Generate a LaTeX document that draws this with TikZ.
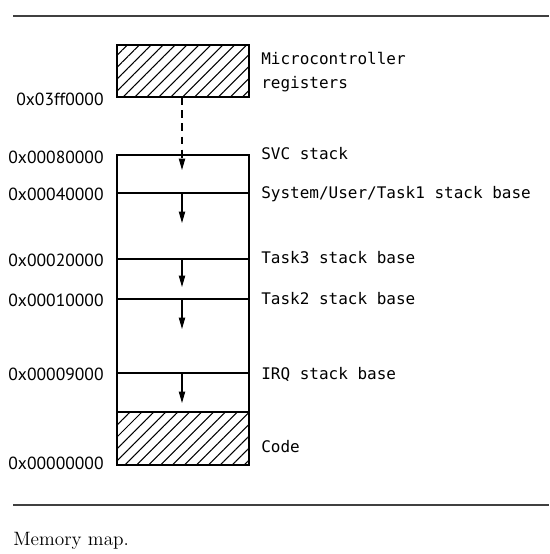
\documentclass[tikz,border=0pt]{standalone}
\usepackage{fontspec}
\setmonofont{DejaVu Sans Mono}
\newfontfamily\addrfont{PT Sans}
\usetikzlibrary{arrows.meta,patterns.meta}

\tikzset{
  wall/.style={line width=1pt},
  hatched/.style={draw, line width=1pt, pattern={Lines[angle=45,distance=4.8pt,line width=0.6pt]}},
  addr/.style={anchor=east, inner sep=0pt, font=\addrfont\fontsize{10}{12}\selectfont},
  region/.style={anchor=west, inner sep=0pt, align=left, font=\ttfamily\fontsize{9.1}{13.5}\selectfont},
  growarrow/.style={->, line width=0.6pt},
  rule/.style={line width=0.8pt, black!75},
}

\begin{document}
\begin{tikzpicture}[x=0.02cm, y=-0.02cm, >={Triangle[length=6.5pt,width=3.6pt]}]
    \useasboundingbox (0,0) rectangle (549,554);

    % rules above and below
    \draw[rule] (13,16) -- (549,16);
    \draw[rule] (13,505) -- (549,505);

    % registers block
    \draw[hatched] (117,45) rectangle (249,97);
    \node[region] (regs) at (261,72) {Microcontroller\\registers};
    \node[addr] (a-regs) at (104,99) {0x03ff0000};

    % RAM column and code block
    \draw[wall] (117,155) rectangle (249,465);
    \draw[hatched] (117,412) rectangle (249,465);
    \node[region] (code) at (261,447) {Code};
    \node[addr] (a-code) at (104,463) {0x00000000};

    \node[region] (svc) at (261,154) {SVC stack};
    \node[addr] (a-svc) at (104,157) {0x00080000};

    \draw[wall] (117,193) -- (249,193);
    \node[region] (usr) at (261,194) {System/User/Task1 stack base};
    \node[addr] (a-usr) at (104,194) {0x00040000};

    \draw[wall] (117,259) -- (249,259);
    \node[region] (t3) at (261,258) {Task3 stack base};
    \node[addr] (a-t3) at (104,260) {0x00020000};

    \draw[wall] (117,299) -- (249,299);
    \node[region] (t2) at (261,299) {Task2 stack base};
    \node[addr] (a-t2) at (104,300) {0x00010000};

    \draw[wall] (117,373) -- (249,373);
    \node[region] (irq) at (261,374) {IRQ stack base};
    \node[addr] (a-irq) at (104,374) {0x00009000};

    % stack growth
    \coordinate (s0) at (182,97);   \coordinate (e0) at (182,170);
    \coordinate (s1) at (182,193);  \coordinate (e1) at (182,223);
    \coordinate (s2) at (182,259);  \coordinate (e2) at (182,287);
    \coordinate (s3) at (182,299);  \coordinate (e3) at (182,329);
    \coordinate (s4) at (182,373);  \coordinate (e4) at (182,403);
    \draw[growarrow, dash pattern=on 4.5pt off 3pt] (s0) -- (e0);
    \draw[growarrow] (s1) -- (e1);
    \draw[growarrow] (s2) -- (e2);
    \draw[growarrow] (s3) -- (e3);
    \draw[growarrow] (s4) -- (e4);

    \node[anchor=base west, inner sep=0pt, font=\fontsize{11}{13}\selectfont] (cap) at (13,545) {Memory map.};
\end{tikzpicture}
\end{document}
